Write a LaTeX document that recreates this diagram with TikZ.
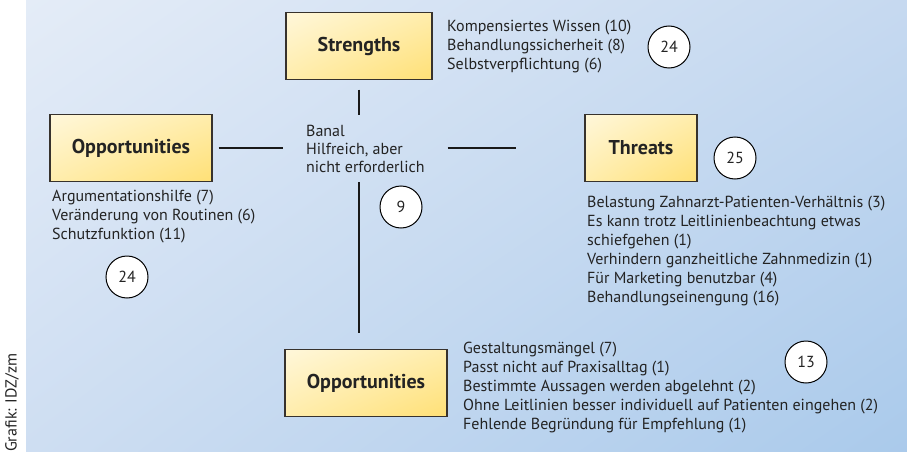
\documentclass[tikz,border=0pt]{standalone}
\usepackage{fontspec}
\setmainfont{PT Sans}
\usetikzlibrary{positioning,shadings}
\definecolor{bgTL}{RGB}{228,236,247}
\definecolor{bgTR}{RGB}{198,217,240}
\definecolor{bgBL}{RGB}{206,222,242}
\definecolor{bgBR}{RGB}{170,202,235}
\definecolor{boxTL}{RGB}{255,247,218}
\definecolor{boxBR}{RGB}{255,224,118}
\definecolor{boxMid}{RGB}{255,237,172}
\definecolor{frame}{RGB}{55,50,45}
\definecolor{ink}{RGB}{35,35,35}
\tikzset{
  swot/.style={draw=frame, line width=1.4pt, upper left=boxTL, lower right=boxBR,
    upper right=boxMid, lower left=boxMid, minimum height=67pt, text=ink,
    font=\fontsize{20}{24}\selectfont\bfseries},
  count/.style={circle, draw=black, line width=1pt, fill=white, minimum size=42pt,
    inner sep=0pt, text=ink, font=\fontsize{16}{18}\selectfont},
  items/.style={align=left, anchor=north west, inner sep=0pt, text=ink,
    font=\fontsize{16}{19}\selectfont},
  cross/.style={line width=2.6pt, black!90}
}
\begin{document}
\begin{tikzpicture}[x=1pt, y=-1pt]
    \useasboundingbox (0, 0) rectangle (907, 452);
    \fill[white] (0, 0) rectangle (26, 452);
    \shade[upper left=bgTL, upper right=bgTR, lower left=bgBL, lower right=bgBR]
        (26, 0) rectangle (907, 452);
    \node[rotate=90, anchor=west, inner sep=0pt, text=ink, font=\fontsize{16}{18}\selectfont]
        (credit) at (12, 452) {Grafik: IDZ/zm};
    % the four boxes
    \node[swot, minimum width=146pt] (str) at (359, 46) {Strengths};
    \node[swot, minimum width=162pt] (opl) at (131, 148) {Opportunities};
    \node[swot, minimum width=112pt] (thr) at (641, 148) {Threats};
    \node[swot, minimum width=162pt] (opb) at (366, 383) {Opportunities};
    % centre
    \node[align=left, anchor=west, inner xsep=23pt, inner ysep=10pt, text=ink,
        font=\fontsize{16}{18}\selectfont] (mid) at (283, 148.5)
        {Banal\\Hilfreich, aber\\nicht erforderlich};
    \draw[cross, shorten <=9.5pt] (str) -- (str |- mid.north);
    \draw[cross, shorten >=16pt] (str |- mid.south) -- (str |- opb.north);
    \draw[cross, shorten <=6pt] (opl) -- (opl -| mid.west);
    \draw[cross, shorten >=68pt] (mid.east |- thr) -- (thr);
    % lists
    \node[items] (strlist) at (447, 20) {Kompensiertes Wissen (10)\\Behandlungssicherheit (8)\\Selbstverpflichtung (6)};
    \node[items] (opllist) at (52, 190) {Argumentationshilfe (7)\\Veränderung von Routinen (6)\\Schutzfunktion (11)};
    \node[items] (thrlist) at (587, 196) {Belastung Zahnarzt-Patienten-Verhältnis (3)\\Es kann trotz Leitlinienbeachtung etwas\\schiefgehen (1)\\Verhindern ganzheitliche Zahnmedizin (1)\\Für Marketing benutzbar (4)\\Behandlungseinengung (16)};
    \node[items] (opblist) at (463, 342) {Gestaltungsmängel (7)\\Passt nicht auf Praxisalltag (1)\\Bestimmte Aussagen werden abgelehnt (2)\\Ohne Leitlinien besser individuell auf Patienten eingehen (2)\\Fehlende Begründung für Empfehlung (1)};
    % counts
    \node[count] (nstr) at (669, 47) {24};
    \node[count] (nthr) at (735, 158) {25};
    \node[count] (nmid) at (401, 207) {9};
    \node[count] (nopl) at (127, 277) {24};
    \node[count] (nopb) at (806, 362) {13};
\end{tikzpicture}
\end{document}
